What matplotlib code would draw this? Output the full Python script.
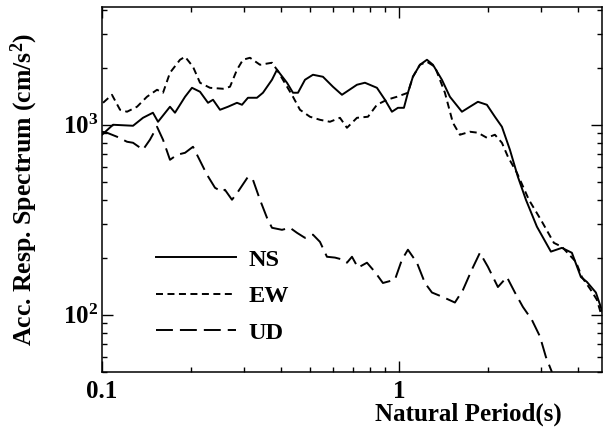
import numpy as np
import matplotlib
matplotlib.use('Agg')
import matplotlib.pyplot as plt
from matplotlib.ticker import LogLocator, FixedLocator, FixedFormatter, NullFormatter

plt.rcParams['font.family'] = 'Liberation Serif'
plt.rcParams['font.weight'] = 'bold'
plt.rcParams['mathtext.fontset'] = 'custom'
plt.rcParams['mathtext.rm'] = 'Liberation Serif:bold'
plt.rcParams['mathtext.bf'] = 'Liberation Serif:bold'
plt.rcParams['mathtext.it'] = 'Liberation Serif:bold'
plt.rcParams['mathtext.default'] = 'rm'

# NS component (period s, acceleration cm/s2)
ns_period = [0.100, 0.1089, 0.1272, 0.1374, 0.1484, 0.1544, 0.1694, 0.1761, 0.1904, 0.2009,
             0.2138, 0.2275, 0.2365, 0.2497, 0.2656, 0.2848, 0.2961, 0.3101, 0.3325, 0.3484,
             0.3736, 0.3884, 0.4197, 0.4397, 0.4571, 0.4826, 0.5134, 0.5547, 0.5995, 0.6429,
             0.7222, 0.7683, 0.8431, 0.8973, 0.9471, 0.9922, 1.0394, 1.0722, 1.1144, 1.1770,
             1.2427, 1.3018, 1.3955, 1.4848, 1.6297, 1.7338, 1.8450, 1.9780, 2.1049, 2.2224,
             2.3644, 2.5159, 2.6771, 2.9150, 3.2497, 3.5384, 3.8237, 4.1006, 4.2954, 4.6053,
             4.8615]
ns_acc = [886, 1000, 988, 1088, 1157, 1037, 1244, 1157, 1404, 1565,
          1492, 1305, 1354, 1199, 1244, 1305, 1274, 1387, 1387, 1474,
          1725, 1948, 1664, 1474, 1474, 1725, 1833, 1789, 1585, 1438,
          1624, 1664, 1565, 1354, 1171, 1228, 1228, 1474, 1789, 2069,
          2198, 2069, 1725, 1404, 1171, 1244, 1321, 1274, 1102, 976,
          739, 532, 403, 291, 215, 225, 212, 158, 149, 131,
          102]

# EW component
ew_period = [0.1008, 0.1080, 0.1150, 0.1214, 0.1312, 0.1417, 0.1532, 0.1605, 0.1694, 0.1831,
             0.1904, 0.2025, 0.2138, 0.2310, 0.2555, 0.2698, 0.2848, 0.2983, 0.3150, 0.3404,
             0.3736, 0.3884, 0.4397, 0.4642, 0.5016, 0.5420, 0.5857, 0.6330, 0.6683, 0.7222,
             0.7865, 0.8431, 0.9112, 0.9846, 1.0722, 1.1144, 1.1770, 1.2427, 1.3221, 1.4284,
             1.5198, 1.6046, 1.7338, 1.8450, 1.9780, 2.1049, 2.2224, 2.3281, 2.4963, 2.7397,
             3.0072, 3.3262, 3.5384, 3.9445, 4.1330, 4.4300, 4.6416, 4.7863]
ew_acc = [1305, 1438, 1199, 1171, 1244, 1404, 1528, 1474, 1878, 2198,
          2280, 2020, 1664, 1565, 1547, 1585, 1948, 2198, 2252, 2069,
          2120, 1948, 1404, 1199, 1102, 1062, 1037, 1088, 964, 1088,
          1102, 1274, 1354, 1404, 1474, 1789, 2069, 2145, 2020, 1474,
          1024, 886, 919, 908, 854, 886, 804, 679, 559, 403,
          316, 239, 228, 190, 158, 135, 120, 102]

# UD component
ud_period = [0.100, 0.1039, 0.1123, 0.1214, 0.1272, 0.1374, 0.1450, 0.1532, 0.1605, 0.1694,
             0.1789, 0.1904, 0.2025, 0.2105, 0.2257, 0.2402, 0.2535, 0.2594, 0.2740, 0.2870,
             0.3101, 0.3224, 0.3404, 0.3594, 0.3736, 0.4037, 0.4296, 0.4536, 0.4826, 0.5134,
             0.5420, 0.5722, 0.6088, 0.6479, 0.6683, 0.6948, 0.7278, 0.7804, 0.8302, 0.8832,
             0.9694, 1.0235, 1.0722, 1.1497, 1.2234, 1.2917, 1.4063, 1.5436, 1.6424, 1.7609,
             1.8738, 1.9935, 2.1544, 2.3101, 2.4580, 2.6152, 2.8042, 2.9838, 3.1260, 3.2749]
ud_acc = [919, 908, 865, 814, 804, 739, 834, 976, 834, 654,
          695, 712, 766, 679, 546, 466, 444, 455, 403, 444,
          532, 513, 403, 324, 287, 280, 287, 270, 254, 264,
          242, 202, 200, 195, 188, 202, 177, 188, 168, 147,
          153, 195, 220, 188, 147, 131, 124, 116, 135, 173,
          212, 179, 140, 158, 131, 110, 94, 77, 60, 50]

series_labels = ['NS', 'EW', 'UD']

fig = plt.figure(figsize=(6.04, 4.33), dpi=100)
ax = fig.add_axes([0.1689, 0.1409, 0.8278, 0.8422])

lw = 1.4
ax.plot(ns_period, ns_acc, color='black', lw=lw, linestyle='-', label=series_labels[0])
ax.plot(ew_period, ew_acc, color='black', lw=lw, linestyle=(0, (3.6, 2.3)), label=series_labels[1])
ax.plot(ud_period, ud_acc, color='black', lw=lw, linestyle=(0, (8.7, 3.6)), label=series_labels[2])

ax.set_xscale('log')
ax.set_yscale('log')
ax.set_xlim(0.1, 4.83)
ax.set_ylim(50, 4150)

# ticks
ax.xaxis.set_major_locator(FixedLocator([0.1, 1]))
ax.xaxis.set_major_formatter(FixedFormatter(['0.1', '1']))
ax.xaxis.set_minor_locator(LogLocator(base=10, subs=np.arange(2, 10)))
ax.xaxis.set_minor_formatter(NullFormatter())
ax.yaxis.set_major_locator(FixedLocator([100, 1000]))
ax.yaxis.set_major_formatter(FixedFormatter([r'$10^{2}$', r'$10^{3}$']))
ax.yaxis.set_minor_locator(LogLocator(base=10, subs=np.arange(2, 10)))
ax.yaxis.set_minor_formatter(NullFormatter())

ax.tick_params(which='both', direction='in', top=True, right=True, width=1.0)
ax.tick_params(which='major', length=8, labelsize=18)
ax.tick_params(which='minor', length=3.5)
ax.tick_params(axis='x', which='major', pad=6)
ax.tick_params(axis='y', which='major', pad=3)
for sp in ax.spines.values():
    sp.set_linewidth(1.1)

ax.set_xlabel('Natural Period(s)', fontsize=18, fontweight='bold')
ax.xaxis.set_label_coords(0.732, -0.085)
ax.set_ylabel('Acc. Resp. Spectrum (cm/s$^{2}$)', fontsize=18.5, fontweight='bold')
ax.yaxis.set_label_coords(-0.125, 0.5)

ax.legend(loc='upper left', bbox_to_anchor=(0.108, 0.338), frameon=False,
          fontsize=17.5, handlelength=3.3, handletextpad=0.5, labelspacing=0.6,
          borderpad=0, borderaxespad=0)

fig.savefig('out.png', dpi=100)
